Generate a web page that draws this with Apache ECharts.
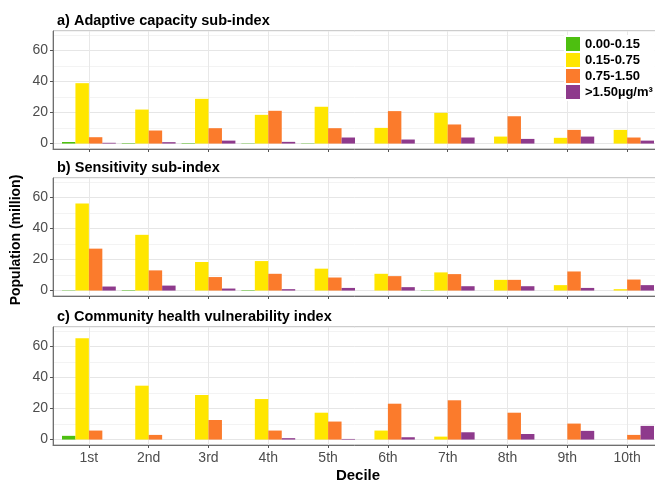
<!DOCTYPE html>
<html>
<head>
<meta charset="utf-8">
<script src="https://cdn.jsdelivr.net/npm/echarts@6/dist/echarts.min.js"></script>
<style>
  html, body { margin: 0; padding: 0; background: #fff; }
  #chart { width: 655px; height: 484px; }
</style>
</head>
<body>
<div id="chart"></div>
<script>
// categories and legend bins
const deciles = ['1st', '2nd', '3rd', '4th', '5th', '6th', '7th', '8th', '9th', '10th']
const decilePos = [1, 2, 3, 4, 5, 6, 7, 8, 9, 10]
const bins = ['0.00-0.15', '0.15-0.75', '0.75-1.50', '>1.50µg/m³']
const panelTitles = [
  'a) Adaptive capacity sub-index',
  'b) Sensitivity sub-index',
  'c) Community health vulnerability index'
]
const yTicks = [0, 20, 40, 60]

// a) adaptive capacity, population (million) per bin
const adaptiveBin1 = [1.0, 0.3, 0.3, 0.2, 0.2, 0, 0, 0, 0, 0]
const adaptiveBin2 = [38.9, 21.9, 28.8, 18.5, 23.7, 10.1, 19.8, 4.5, 3.7, 8.8]
const adaptiveBin3 = [4.1, 8.4, 9.9, 21.1, 9.9, 20.9, 12.3, 17.6, 8.8, 3.9]
const adaptiveBin4 = [0.5, 0.9, 1.9, 1.1, 3.9, 2.6, 3.9, 3.0, 4.5, 1.9]

// b) sensitivity
const sensitivityBin1 = [0.2, 0.3, 0, 0.3, 0, 0, 0.2, 0, 0, 0]
const sensitivityBin2 = [56.0, 35.9, 18.4, 19.0, 14.1, 10.8, 11.7, 6.9, 3.5, 0.9]
const sensitivityBin3 = [27.0, 13.0, 8.7, 10.8, 8.4, 9.3, 10.6, 6.9, 12.3, 7.1]
const sensitivityBin4 = [2.6, 3.2, 1.3, 0.9, 1.7, 2.2, 2.8, 2.8, 1.7, 3.5]

// c) community health vulnerability
const healthBin1 = [2.4, 0, 0, 0, 0, 0, 0, 0, 0, 0]
const healthBin2 = [65.3, 34.7, 28.7, 26.1, 17.3, 5.8, 1.9, 0, 0, 0]
const healthBin3 = [5.8, 3.0, 12.6, 5.8, 11.6, 23.1, 25.3, 17.3, 10.3, 3.0]
const healthBin4 = [0, 0, 0, 0.9, 0.4, 1.5, 4.7, 3.6, 5.6, 8.8]

const panelData = [
  [adaptiveBin1, adaptiveBin2, adaptiveBin3, adaptiveBin4],
  [sensitivityBin1, sensitivityBin2, sensitivityBin3, sensitivityBin4],
  [healthBin1, healthBin2, healthBin3, healthBin4]
]

const colors = ['#4dbf10', '#ffe600', '#fb7b2c', '#8e3a8c']
const font = 'Liberation Sans'
const panelTops = [31, 178, 327]
const panelHeight = 118

const chart = echarts.init(document.getElementById('chart'))

const grids = []
const xAxes = []
const yAxes = []
const series = []
const titles = []

panelTops.forEach((top, p) => {
  grids.push({
    left: 53,
    top: top,
    width: 610,
    height: panelHeight,
    outerBoundsMode: 'none',
    containLabel: false,
    show: true,
    backgroundColor: '#fff',
    borderColor: '#9a9a9a',
    borderWidth: 1
  })
  titles.push({
    text: panelTitles[p],
    left: 52,
    top: top - 23,
    textStyle: { fontFamily: font, fontSize: 14.5, fontWeight: 'bold', color: '#000' }
  })
  // deciles sit at 1..10, ggplot-style 0.6 padding on each side
  xAxes.push({
    type: 'value',
    gridIndex: p,
    position: 'bottom',
    min: 0.4,
    max: 10.6,
    splitNumber: 10,
    axisLine: { onZero: false, lineStyle: { color: '#6f6f6f', width: 1 } },
    axisTick: { show: true, length: 3, customValues: decilePos, lineStyle: { color: '#555' } },
    axisLabel: {
      show: p === 2,
      customValues: decilePos,
      formatter: v => deciles[Math.round(v) - 1],
      margin: 6,
      fontFamily: font,
      fontSize: 14,
      color: '#4d4d4d'
    },
    splitLine: { show: true, lineStyle: { color: '#e8e8e8', width: 1 } }
  })
  // minor grid (every 10)
  yAxes.push({
    type: 'value',
    gridIndex: p,
    position: 'left',
    min: -3.5,
    max: 72.5,
    splitNumber: 8,
    axisLine: { show: false },
    axisTick: { show: false },
    axisLabel: { show: false },
    splitLine: { show: true, lineStyle: { color: '#f3f3f3', width: 1 } }
  })
  // major axis
  yAxes.push({
    type: 'value',
    gridIndex: p,
    position: 'left',
    min: -3.5,
    max: 72.5,
    splitNumber: 4,
    axisLine: { show: true, onZero: false, lineStyle: { color: '#6f6f6f', width: 1 } },
    axisTick: { show: true, length: 3, customValues: yTicks, lineStyle: { color: '#555' } },
    axisLabel: {
      customValues: yTicks,
      margin: 5,
      fontFamily: font,
      fontSize: 14,
      color: '#4d4d4d'
    },
    splitLine: { show: true, lineStyle: { color: '#e6e6e6', width: 1 } }
  })
  bins.forEach((name, b) => {
    series.push({
      name: name,
      type: 'bar',
      xAxisIndex: p,
      yAxisIndex: p * 2 + 1,
      data: panelData[p][b].map((v, i) => [decilePos[i], v]),
      barGap: '0%',
      barCategoryGap: '10%',
      itemStyle: { color: colors[b] },
      emphasis: { disabled: true }
    })
  })
})

const option = {
  animation: false,
  backgroundColor: '#fff',
  title: titles,
  grid: grids,
  xAxis: xAxes,
  yAxis: yAxes,
  legend: {
    data: bins,
    orient: 'vertical',
    left: 564,
    top: 35,
    itemWidth: 14,
    itemHeight: 14,
    itemGap: 2,
    padding: [2, 2, 2, 2],
    backgroundColor: '#fff',
    icon: 'rect',
    selectedMode: false,
    textStyle: { fontFamily: font, fontSize: 13, fontWeight: 'bold', color: '#000', padding: [0, 0, 0, 0] }
  },
  graphic: [
    {
      type: 'text',
      x: 16,
      y: 240,
      rotation: Math.PI / 2,
      style: {
        text: 'Population (million)',
        font: 'bold 14px "Liberation Sans"',
        fill: '#000',
        align: 'center',
        verticalAlign: 'middle'
      }
    },
    {
      type: 'text',
      x: 358,
      y: 476,
      style: {
        text: 'Decile',
        font: 'bold 15px "Liberation Sans"',
        fill: '#000',
        align: 'center',
        verticalAlign: 'middle'
      }
    }
  ],
  series: series
}

chart.setOption(option)
</script>
</body>
</html>
